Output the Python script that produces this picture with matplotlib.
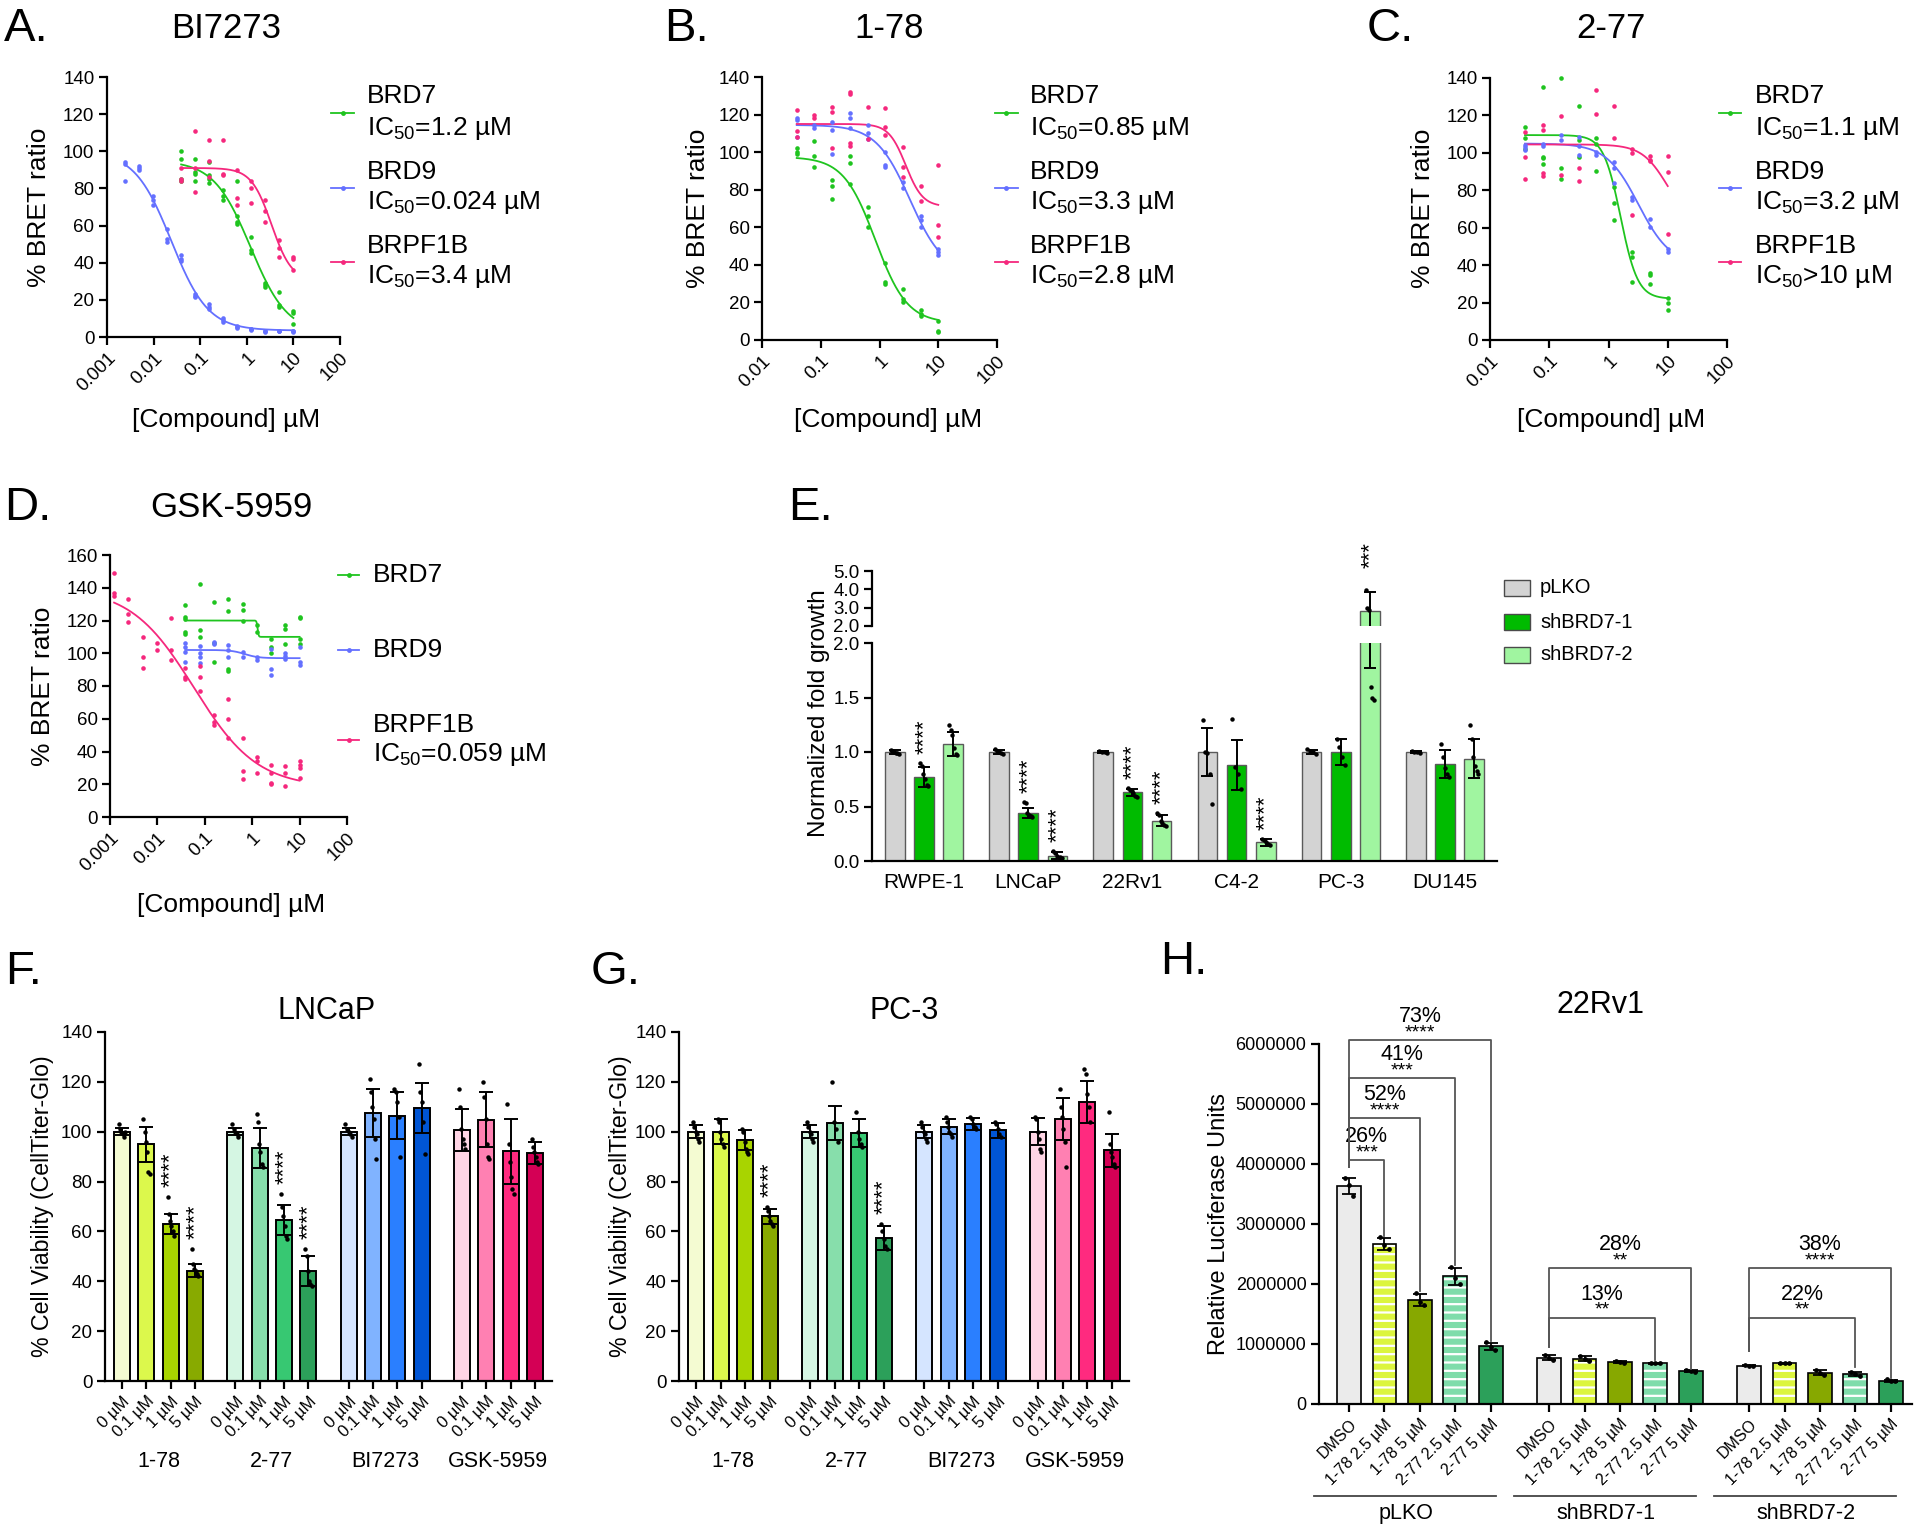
import numpy as np
import matplotlib
matplotlib.use("Agg")
import matplotlib.pyplot as plt
from matplotlib.patches import Rectangle
from matplotlib.lines import Line2D
from matplotlib.ticker import NullLocator

plt.rcParams['font.family'] = ['Liberation Sans', 'DejaVu Sans']
plt.rcParams['mathtext.fontset'] = 'custom'
plt.rcParams['mathtext.rm'] = 'Liberation Sans'
plt.rcParams['mathtext.it'] = 'Liberation Sans:italic'
plt.rcParams['mathtext.bf'] = 'Liberation Sans:bold'
plt.rcParams['mathtext.sf'] = 'Liberation Sans'
plt.rcParams['hatch.linewidth'] = 1.6

# ======================= DATA =======================
# ---- dose-response (BRET) ----
conc_13 = [0.00244, 0.00488, 0.00977, 0.0195, 0.039, 0.078, 0.156, 0.3125, 0.625, 1.25, 2.5, 5, 10]
conc_9 = [0.039, 0.078, 0.156, 0.3125, 0.625, 1.25, 2.5, 5, 10]
conc_14 = [0.00122, 0.00244, 0.00488, 0.00977, 0.0195, 0.039, 0.078, 0.156, 0.3125, 0.625, 1.25, 2.5, 5, 10]

# Panel A: BI7273
A_brd7 = [[100, 96, 85, 84], [96, 89, 88, 84], [94, 87, 85, 83], [79, 76, 74], [84, 65, 62, 61],
          [54, 47, 45], [29, 28, 27], [24, 17, 16], [14, 13, 7]]
A_brd9 = [[94, 93, 84], [92, 91, 90], [76, 74, 71], [58, 53, 51], [44, 42, 41], [23, 22, 21.5],
          [18, 16, 15], [10, 9, 8], [6, 5.5, 5], [4.5, 4.5, 4], [3.5, 3, 2.5], [3.5, 3.5, 3], [3.5, 3, 2.5]]
A_brpf1b = [[91, 85, 84], [111, 91, 78], [106, 95, 86], [106, 88, 87], [90, 75, 71], [84, 80, 72],
            [74, 68, 62], [52, 48, 43], [43, 42, 36]]
# fit parameters: top, bottom, ec50, hill
A_fit_brd7 = [95, 2, 1.2, 1.1]
A_fit_brd9 = [100, 3.5, 0.024, 1.1]
A_fit_brpf1b = [91, 30, 3.4, 2.0]
A_labels = ["IC$_{50}$=1.2 µM", "IC$_{50}$=0.024 µM", "IC$_{50}$=3.4 µM"]

# Panel B: 1-78
B_brd7 = [[102, 100, 99], [106, 98, 92], [85, 82, 75], [98, 94, 83], [71, 66, 60], [41, 31, 30],
          [27, 22, 20], [16, 14, 13], [10, 5, 4]]
B_brd9 = [[118, 117, 108], [114.5, 113], [116, 112, 99], [121, 118, 113], [114.5, 110, 107],
          [100, 93, 92], [84, 81], [66, 64, 60], [48.5, 47, 45]]
B_brpf1b = [[122.5, 111, 108], [120, 118], [124, 121.5, 102], [132, 131, 105, 103.5], [124, 107],
            [123.5, 113.5, 109], [103, 92, 87], [82, 74], [93, 61, 55]]
B_fit_brd7 = [97.5, 9, 0.85, 1.6]
B_fit_brd9 = [114.5, 35, 3.3, 1.5]
B_fit_brpf1b = [115, 71, 2.8, 3.0]
B_labels = ["IC$_{50}$=0.85 µM", "IC$_{50}$=3.3 µM", "IC$_{50}$=2.8 µM"]

# Panel C: 2-77
C_brd7 = [[114, 108, 102], [135, 98, 97.5, 94], [140, 92, 86], [125, 107, 98], [108, 105, 90.5],
          [82, 73, 64], [47, 44.5, 31], [36, 35, 30], [22.6, 20, 16]]
C_brd9 = [[104, 103, 101.5], [105, 103.5], [109.5, 107], [108.5, 103.5, 99], [100.6, 99],
          [95, 92, 84], [76.6, 75], [64.5, 60.6], [48.6, 47]]
C_brpf1b = [[111, 98, 86], [115, 112, 89, 87.5], [119.5, 88], [92, 85], [133.6, 121], [125, 108],
            [102, 100, 67], [98.5, 96, 95.5], [98.5, 89.6, 56.6]]
C_fit_brd7 = [109.5, 22, 1.6, 3.0]
C_fit_brd9 = [105, 40, 3.2, 1.6]
C_fit_brpf1b = [104.5, 60, 10, 2.0]
C_labels = ["IC$_{50}$=1.1 µM", "IC$_{50}$=3.2 µM", "IC$_{50}$>10 µM"]

# Panel D: GSK-5959
D_brd7 = [[129.6, 122, 121, 112.8, 111.8], [142, 114, 110], [131.5, 106, 94.6], [133, 126, 90.5, 89],
          [130, 126.6, 120], [117.5, 112.8], [108.8, 104, 100], [117.5, 114.6, 105.7],
          [122, 121.5, 108.8, 105.7]]
D_brd9 = [[106, 103.7, 100.8, 94.6], [104.7, 100, 97.6, 94], [106.7, 105.7], [105.3, 101.7, 97.6],
          [101, 97.6], [97.6, 95.6], [102.3, 90.5, 86.5], [100.2, 98.2, 96.2], [103.7, 94.6, 93]]
D_brpf1b = [[149, 137, 135], [133, 124, 119], [110, 98, 91], [106, 102], [121.5, 102, 96],
            [91, 85.5, 84], [92, 85.5, 77], [62, 58, 56], [72, 60, 48], [48, 28, 23], [36.5, 34, 27],
            [32, 27, 21, 20], [31, 27, 19], [34, 32, 30, 24]]
D_fit_brd7 = [120, 110, 1.3, 40]
D_fit_brd9 = [102, 97, 0.7, 3.0]
D_fit_brpf1b = [140, 18, 0.059, 0.65]
D_labels = ["", "", "IC$_{50}$=0.059 µM"]

targets = ["BRD7", "BRD9", "BRPF1B"]
target_colors = ["#1fc41f", "#6470ff", "#f5287d"]

# ---- Panel E: normalized fold growth ----
E_lines = ['RWPE-1', 'LNCaP', '22Rv1', 'C4-2', 'PC-3', 'DU145']
E_conditions = ['pLKO', 'shBRD7-1', 'shBRD7-2']
E_colors = ['#d3d3d3', '#00bb00', '#a0f5a0']
E_mean_pLKO = [1.00, 1.00, 1.00, 1.00, 1.00, 1.00]
E_mean_sh1 = [0.77, 0.44, 0.63, 0.88, 1.00, 0.89]
E_mean_sh2 = [1.07, 0.05, 0.37, 0.17, 2.80, 0.94]
E_sd_pLKO = [0.02, 0.02, 0.01, 0.22, 0.02, 0.01]
E_sd_sh1 = [0.09, 0.05, 0.03, 0.23, 0.12, 0.13]
E_sd_sh2 = [0.11, 0.03, 0.05, 0.03, 1.03, 0.18]
E_pts_pLKO = [[1.02, 1.01, 1.0, 0.99, 0.99, 0.98], [1.03, 1.01, 1.0, 0.99, 0.98], [1.01, 1.0, 1.0, 0.99],
              [1.29, 1.0, 0.99, 0.8, 0.52], [1.03, 1.01, 1.0, 0.98], [1.01, 1.0, 1.0, 0.99]]
E_pts_sh1 = [[0.90, 0.87, 0.80, 0.75, 0.70, 0.69], [0.54, 0.53, 0.44, 0.42, 0.41, 0.40],
             [0.67, 0.65, 0.64, 0.62, 0.60, 0.59], [1.30, 0.86, 0.80, 0.66], [1.12, 1.05, 0.95, 0.88],
             [1.07, 0.95, 0.85, 0.80, 0.77]]
E_pts_sh2 = [[1.25, 1.20, 1.16, 1.04, 0.98, 0.97], [0.09, 0.07, 0.05, 0.04, 0.03],
             [0.44, 0.42, 0.37, 0.35, 0.33, 0.32], [0.20, 0.19, 0.17, 0.16, 0.15],
             [3.95, 3.0, 2.9, 1.6, 1.5, 1.48], [1.25, 1.12, 0.95, 0.87, 0.83, 0.80]]
E_stars_pLKO = ['', '', '', '', '', '']
E_stars_sh1 = ['****', '****', '****', '', '', '']
E_stars_sh2 = ['', '****', '****', '****', '***', '']
E_yticks_low = [0.0, 0.5, 1.0, 1.5, 2.0]
E_yticks_up = [2.0, 3.0, 4.0, 5.0]

# ---- Panels F/G: cell viability ----
FG_compounds = ['1-78', '2-77', 'BI7273', 'GSK-5959']
FG_doses = ['0 µM', '0.1 µM', '1 µM', '5 µM']
FG_colors = [['#f4fbd2', '#dcf84c', '#a8d400', '#88aa00'],
             ['#d5f6e3', '#87deab', '#37c872', '#2ca05a'],
             ['#d5e5ff', '#80b3ff', '#2a7fff', '#0055d4'],
             ['#ffd5e5', '#ff80b2', '#ff2a7f', '#d40055']]
F_mean = [[100, 95, 63, 44.3], [100, 93.6, 64.6, 44.3], [100, 107.5, 106.5, 109.6], [100.8, 104.8, 92.2, 91.5]]
F_sd = [[1.5, 7, 4, 2.5], [1.5, 8, 6, 6], [1.5, 9.5, 9.5, 10], [8.5, 11, 13, 4.5]]
F_pts = [[[103, 101, 100, 99, 98, 100], [105, 100, 96, 92, 84, 83], [74, 67, 64, 62, 60, 58], [53, 47, 45, 44, 43, 42]],
         [[103, 101, 100, 99, 98], [107, 104, 95, 92, 87, 86], [75, 70, 66, 62, 58, 57], [53, 50, 44, 40, 39, 38]],
         [[103, 101, 100, 99, 98], [121, 116, 110, 105, 97, 89], [117, 116, 112, 106, 90], [127, 116, 112, 104, 91]],
         [[117, 110, 101, 97, 95, 93], [120, 114, 105, 95, 90, 89], [111, 95, 88, 82, 77, 75], [97, 94, 92, 90, 88, 87]]]
F_stars = [['', '', '****', '****'], ['', '', '****', '****'], ['', '', '', ''], ['', '', '', '']]

G_mean = [[100, 100, 96.5, 66], [100, 103.5, 99.5, 57.5], [100, 102, 103, 100.5], [100, 105, 112, 92.5]]
G_sd = [[2.5, 5, 4, 3], [2.5, 7, 5.5, 4.8], [2.5, 3, 2.5, 3], [5.5, 8.5, 8.5, 6.5]]
G_pts = [[[104, 102, 100, 99, 97, 96], [105, 104, 100, 97, 95, 94], [101, 100, 96, 93, 92, 91], [70, 68, 66, 64, 63, 62]],
         [[104, 102, 100, 99, 97, 96], [120, 104, 101, 96], [108, 100, 97, 95, 94], [63, 60, 57, 54, 53]],
         [[104, 102, 100, 99, 97, 96], [106, 104, 102, 100, 99, 98], [106, 105, 103, 102, 101], [104, 103, 101, 99, 98]],
         [[106, 105, 100, 97, 93, 92], [117, 110, 106, 101, 96, 86], [125, 123, 115, 110, 104], [108, 95, 92, 90, 87, 86]]]
G_stars = [['', '', '', '****'], ['', '', '', '****'], ['', '', '', ''], ['', '', '', '']]

# ---- Panel H: 22Rv1 luciferase ----
H_groups = ['pLKO', 'shBRD7-1', 'shBRD7-2']
H_treatments = ['DMSO', '1-78 2.5 µM', '1-78 5 µM', '2-77 2.5 µM', '2-77 5 µM']
H_colors = ['#ebebeb', '#dcf53e', '#87a800', '#7fdcaa', '#2ca05a']
H_hatched = [False, True, False, True, False]
H_mean = [[3630000, 2670000, 1730000, 2130000, 960000],
          [770000, 755000, 700000, 680000, 550000],
          [640000, 680000, 520000, 500000, 390000]]
H_sd = [[130000, 100000, 100000, 140000, 60000],
        [40000, 40000, 15000, 10000, 15000],
        [10000, 10000, 40000, 40000, 15000]]
H_pts = [[[3770000, 3650000, 3470000], [2780000, 2650000, 2580000], [1850000, 1700000, 1650000],
          [2280000, 2100000, 2000000], [1030000, 950000, 900000]],
         [[820000, 760000, 740000], [800000, 750000, 720000], [720000, 700000, 690000],
          [690000, 680000, 680000], [570000, 550000, 540000]],
         [[650000, 640000, 630000], [690000, 680000, 680000], [570000, 510000, 490000],
          [540000, 500000, 460000], [410000, 390000, 380000]]]
# (group, treatment index compared with DMSO, bracket height, right-leg bottom, % reduction, stars)
H_brackets = [(0, 1, 4060000, 2800000, '26%', '***'), (0, 2, 4760000, 1880000, '52%', '****'),
              (0, 3, 5430000, 2320000, '41%', '***'), (0, 4, 6060000, 1050000, '73%', '****'),
              (1, 3, 1440000, 730000, '13%', '**'), (1, 4, 2260000, 590000, '28%', '**'),
              (2, 3, 1440000, 610000, '22%', '**'), (2, 4, 2260000, 440000, '38%', '****')]
H_left_bottom = [3950000, 950000, 890000]
H_yticks = [0, 1000000, 2000000, 3000000, 4000000, 5000000, 6000000]

# ======================= FIGURE =======================
W, H = 1920, 1527
fig = plt.figure(figsize=(W / 100, H / 100), dpi=100)


def axes_px(l, t, r, b):
    return fig.add_axes([l / W, 1 - b / H, (r - l) / W, (b - t) / H])


def ftext(x, y, s, **kw):
    kw.setdefault('ha', 'center')
    kw.setdefault('va', 'center')
    return fig.text(x / W, 1 - y / H, s, **kw)


def style_axes(ax, lw=1.6, labelsize=13.5):
    for sp in ('top', 'right'):
        ax.spines[sp].set_visible(False)
    for sp in ('left', 'bottom'):
        ax.spines[sp].set_linewidth(lw)
    ax.tick_params(axis='both', width=lw, length=6, labelsize=labelsize, direction='out', pad=3)
    ax.patch.set_alpha(0)


def logistic(x, top, bottom, ec50, hill):
    return bottom + (top - bottom) / (1 + (np.asarray(x) / ec50) ** hill)


def dose_panel(box, xlim, ymax, concs, reps, fits, letter, letter_xy, title, title_xy,
               xlab_xy, ylab_xy, leg_line_x, leg_text_x, leg_entries, ic_labels):
    ax = axes_px(*box)
    style_axes(ax)
    ax.set_xscale('log')
    ax.set_xlim(*xlim)
    ax.set_ylim(0, ymax)
    decs = [d for d in [0.001, 0.01, 0.1, 1, 10, 100] if xlim[0] <= d <= xlim[1]]
    ax.set_xticks(decs)
    ax.set_xticklabels([('%g' % d) for d in decs], rotation=45, ha='right', rotation_mode='anchor')
    ax.xaxis.set_minor_locator(NullLocator())
    ax.set_yticks(np.arange(0, ymax + 1, 20))
    for conc, rep, fit, col in zip(concs, reps, fits, target_colors):
        for c, vals in zip(conc, rep):
            ax.plot([c] * len(vals), vals, 'o', ms=3.3, color=col, mec='none', clip_on=False, zorder=3)
        xs = np.logspace(np.log10(conc[0]), np.log10(conc[-1]), 400)
        ax.plot(xs, logistic(xs, *fit), color=col, lw=1.3, zorder=2, clip_on=False)
    ftext(*letter_xy, letter, fontsize=34)
    ftext(*title_xy, title, fontsize=25)
    ftext(*xlab_xy, "[Compound] µM", fontsize=19)
    ftext(*ylab_xy, "% BRET ratio", fontsize=19, rotation=90)
    for (name_y, ic_y, line_y), col, name, ic in zip(leg_entries, target_colors, targets, ic_labels):
        fig.add_artist(Line2D([leg_line_x[0] / W, leg_line_x[1] / W], [1 - line_y / H] * 2,
                              color=col, lw=1.3, transform=fig.transFigure))
        fig.add_artist(Line2D([(leg_line_x[0] + leg_line_x[1]) / 2 / W], [1 - line_y / H], marker='o',
                              ms=3.5, color=col, mec='none', transform=fig.transFigure))
        ftext(leg_text_x, name_y, name, fontsize=19, ha='left')
        if ic:
            ftext(leg_text_x, ic_y, ic, fontsize=19, ha='left')
    return ax


leg_AB = [(96, 128, 113), (172, 203, 188), (246, 277, 262)]

dose_panel((107, 77, 340, 337), (0.001, 100), 140, [conc_9, conc_13, conc_9],
           [A_brd7, A_brd9, A_brpf1b], [A_fit_brd7, A_fit_brd9, A_fit_brpf1b],
           "A.", (26, 29), "BI7273", (226, 29), (226, 420), (39, 207),
           (331, 354), 367, leg_AB, A_labels)
dose_panel((762, 77, 997, 340), (0.01, 100), 140, [conc_9, conc_9, conc_9],
           [B_brd7, B_brd9, B_brpf1b], [B_fit_brd7, B_fit_brd9, B_fit_brpf1b],
           "B.", (686, 29), "1-78", (889, 29), (888, 420), (698, 208),
           (995, 1018), 1030, leg_AB, B_labels)
dose_panel((1490, 78, 1727, 340), (0.01, 100), 140, [conc_9, conc_9, conc_9],
           [C_brd7, C_brd9, C_brpf1b], [C_fit_brd7, C_fit_brd9, C_fit_brpf1b],
           "C.", (1390, 29), "2-77", (1611, 29), (1611, 420), (1423, 208),
           (1719, 1741), 1755, leg_AB, C_labels)
dose_panel((110, 555, 347, 817), (0.001, 100), 160, [conc_9, conc_9, conc_14],
           [D_brd7, D_brd9, D_brpf1b], [D_fit_brd7, D_fit_brd9, D_fit_brpf1b],
           "D.", (28, 508), "GSK-5959", (231, 508), (231, 905), (43, 686),
           (338, 359), 373, [(575, 0, 575), (650, 0, 650), (725, 755, 740)], D_labels)

# ---------------- Panel E ----------------
axL = axes_px(872, 643, 1497, 861)
axU = axes_px(872, 571, 1497, 626)
style_axes(axL)
style_axes(axU)
axU.spines['bottom'].set_visible(False)
axU.tick_params(axis='x', length=0, labelbottom=False)
E_means = [E_mean_pLKO, E_mean_sh1, E_mean_sh2]
E_sds = [E_sd_pLKO, E_sd_sh1, E_sd_sh2]
E_pts = [E_pts_pLKO, E_pts_sh1, E_pts_sh2]
E_stars = [E_stars_pLKO, E_stars_sh1, E_stars_sh2]
E_offsets = [-0.28, 0.0, 0.28]
E_centers = np.arange(len(E_lines)) + 0.5
for ax in (axL, axU):
    for k in range(3):
        xs = E_centers + E_offsets[k]
        ax.bar(xs, E_means[k], 0.19, color=E_colors[k], edgecolor='#5a5a5a', lw=1.0, zorder=2)
        ax.errorbar(xs, E_means[k], yerr=E_sds[k], fmt='none', ecolor='black', elinewidth=1.4,
                    capsize=4, capthick=1.4, zorder=4)
        for x, pts in zip(xs, E_pts[k]):
            jit = np.linspace(-0.04, 0.04, len(pts))
            ax.plot(x + jit, pts, 'o', ms=2.2, color='black', zorder=5)
axL.set_xlim(0, 6)
axU.set_xlim(0, 6)
axL.set_ylim(0, 2.0)
axU.set_ylim(2.0, 5.0)
axL.set_yticks(E_yticks_low)
axL.set_yticklabels(['%.1f' % v for v in E_yticks_low])
axU.set_yticks(E_yticks_up)
axU.set_yticklabels(['%.1f' % v for v in E_yticks_up])
axL.set_xticks(E_centers)
axL.set_xticklabels(E_lines, fontsize=15)
axL.tick_params(axis='x', length=0, pad=9)
for k in range(3):
    for i, s in enumerate(E_stars[k]):
        if not s:
            continue
        x = E_centers[i] + E_offsets[k]
        top = max(E_means[k][i] + E_sds[k][i], max(E_pts[k][i]))
        if top > 2.0:
            axU.text(x, 5.15, s, rotation=90, ha='center', va='bottom', fontsize=16, clip_on=False)
        else:
            axL.text(x, top + 0.08, s, rotation=90, ha='center', va='bottom', fontsize=16)
ftext(811, 508, "E.", fontsize=34)
ftext(819, 713, "Normalized fold growth", fontsize=17.5, rotation=90)
for k, (name, y) in enumerate(zip(E_conditions, [588, 622, 655])):
    fig.add_artist(Rectangle((1504 / W, 1 - (y + 8) / H), 26 / W, 16 / H, facecolor=E_colors[k],
                             edgecolor='#4a4a4a', lw=1.0, transform=fig.transFigure))
    ftext(1540, y, name, fontsize=14.5, ha='left')


# ---------------- Panels F and G ----------------
def viability_panel(box, means, sds, pts, stars, letter, letter_xy, title, title_xy, ylab_xy):
    ax = axes_px(*box)
    style_axes(ax)
    pos = []
    for g in range(4):
        xs = [g * 4.65 + b for b in range(4)]
        pos += xs
        ax.bar(xs, means[g], 0.65, color=FG_colors[g], edgecolor='black', lw=1.4, zorder=2)
        ax.errorbar(xs, means[g], yerr=sds[g], fmt='none', ecolor='black', elinewidth=1.4,
                    capsize=5, capthick=1.4, zorder=4)
        for b in range(4):
            p = pts[g][b]
            jit = np.linspace(-0.13, 0.13, len(p))
            ax.plot(xs[b] + jit, p, 'o', ms=2.2, color='black', zorder=5)
            if stars[g][b]:
                top = max(means[g][b] + sds[g][b], max(p))
                ax.text(xs[b], top + 4, stars[g][b], rotation=90, ha='center', va='bottom', fontsize=16)
        ax.text(g * 4.65 + 1.5, -0.232, FG_compounds[g], transform=ax.get_xaxis_transform(),
                ha='center', va='center', fontsize=15.5)
    ax.set_xlim(-0.7, 17.65)
    ax.set_ylim(0, 140)
    ax.set_yticks(np.arange(0, 141, 20))
    ax.set_xticks(pos)
    ax.set_xticklabels(FG_doses * 4, rotation=45, ha='right', rotation_mode='anchor', fontsize=12)
    ftext(*letter_xy, letter, fontsize=34)
    ftext(*title_xy, title, fontsize=22)
    ftext(*ylab_xy, "% Cell Viability (CellTiter-Glo)", fontsize=16.7, rotation=90)
    return ax


viability_panel((105, 1032, 552, 1381), F_mean, F_sd, F_pts, F_stars, "F.", (24, 972), "LNCaP",
                (327, 1011), (43, 1206))
viability_panel((679, 1032, 1129, 1381), G_mean, G_sd, G_pts, G_stars, "G.", (616, 972), "PC-3",
                (904, 1011), (620, 1206))

# ---------------- Panel H ----------------
axH = axes_px(1319, 1044, 1912, 1404)
style_axes(axH, labelsize=13)
posH = []
for g in range(3):
    xs = [g * 5.65 + b for b in range(5)]
    posH += xs
    for b in range(5):
        if H_hatched[b]:
            axH.bar(xs[b], H_mean[g][b], 0.67, color=H_colors[b], edgecolor='white', lw=0,
                    hatch='--', zorder=2)
            axH.bar(xs[b], H_mean[g][b], 0.67, fill=False, edgecolor='black', lw=1.2, zorder=3)
        else:
            axH.bar(xs[b], H_mean[g][b], 0.67, color=H_colors[b], edgecolor='black', lw=1.2, zorder=2)
    axH.errorbar(xs, H_mean[g], yerr=H_sd[g], fmt='none', ecolor='black', elinewidth=1.3,
                 capsize=5, capthick=1.3, zorder=4)
    for b in range(5):
        p = H_pts[g][b]
        jit = np.linspace(-0.12, 0.12, len(p))
        axH.plot(xs[b] + jit, p, 'o', ms=2.4, color='black', zorder=5)
    tr = axH.get_xaxis_transform()
    axH.plot([g * 5.65 - 1.0, g * 5.65 + 4.15], [-0.256, -0.256], color='#444444', lw=1.3,
             transform=tr, clip_on=False)
    axH.text(g * 5.65 + 1.6, -0.303, H_groups[g], transform=tr, ha='center', va='center', fontsize=15.5)
for g, j, yb, yr, pct, st in H_brackets:
    x1 = g * 5.65
    x2 = g * 5.65 + j
    axH.plot([x1, x1, x2, x2], [H_left_bottom[g], yb, yb, yr], color='#555555', lw=1.3,
             clip_on=False, zorder=6)
    axH.text((x1 + x2) / 2, yb + 120000, st, ha='center', va='center', fontsize=14, clip_on=False)
    axH.text((x1 + x2) / 2, yb + 390000, pct, ha='center', va='center', fontsize=15.5, clip_on=False)
axH.set_xlim(-0.85, 15.9)
axH.set_ylim(0, 6000000)
axH.set_yticks(H_yticks)
axH.set_yticklabels([str(v) for v in H_yticks])
axH.set_xticks(posH)
axH.set_xticklabels(H_treatments * 3, rotation=45, ha='right', rotation_mode='anchor', fontsize=11.5)
ftext(1184, 962, "H.", fontsize=34)
ftext(1600, 1005, "22Rv1", fontsize=22)
ftext(1219, 1224, "Relative Luciferase Units", fontsize=17, rotation=90)

fig.savefig("out.png", dpi=100, facecolor='white')
